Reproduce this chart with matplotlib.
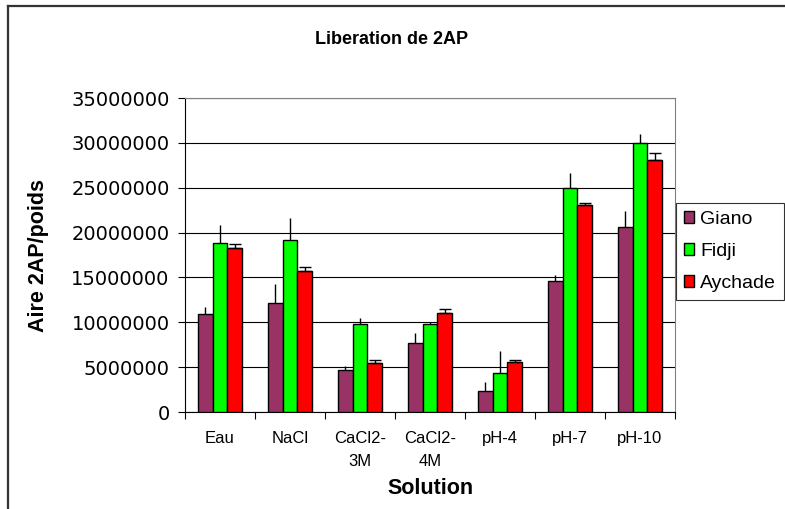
import numpy as np
import matplotlib
matplotlib.use("Agg")
import matplotlib.pyplot as plt
from matplotlib.lines import Line2D

plt.rcParams["font.family"] = ["Liberation Sans", "DejaVu Sans"]

categories = ["Eau", "NaCl", "CaCl2-\n3M", "CaCl2-\n4M", "pH-4", "pH-7", "pH-10"]
series = ["Giano", "Fidji", "Aychade"]
colors = ["#993366", "#00FF00", "#FF0000"]
giano = [10.94e6, 12.2e6, 4.72e6, 7.66e6, 2.34e6, 14.65e6, 20.6e6]
fidji = [18.86e6, 19.2e6, 9.85e6, 9.85e6, 4.35e6, 24.96e6, 29.94e6]
aychade = [18.3e6, 15.77e6, 5.47e6, 11.08e6, 5.61e6, 23.1e6, 28.08e6]
giano_err = [0.76e6, 2.04e6, 0.45e6, 1.14e6, 0.96e6, 0.67e6, 1.75e6]
fidji_err = [1.94e6, 2.37e6, 0.64e6, 0.19e6, 2.41e6, 1.64e6, 1.01e6]
aychade_err = [0.4e6, 0.37e6, 0.37e6, 0.37e6, 0.23e6, 0.2e6, 0.82e6]

values = [giano, fidji, aychade]
errors = [giano_err, fidji_err, aychade_err]
caps = [0, 0, 4]

fig = plt.figure(figsize=(7.85, 5.09), dpi=100)
ax = fig.add_axes([185 / 785, 1 - 412 / 509, 490 / 785, 314 / 509])

x = np.arange(len(categories)) + 0.5
w = 0.214
for k in range(3):
    xs = x + (k - 1) * w
    ax.bar(xs, values[k], width=w, color=colors[k], edgecolor="black",
           linewidth=1.0, label=series[k], zorder=3)
    ax.errorbar(xs, values[k], yerr=[np.zeros(len(x)), errors[k]], fmt="none",
                ecolor="black", elinewidth=1.0, capsize=caps[k], capthick=1.0,
                zorder=4)

ax.set_xlim(0, len(categories))
ax.set_ylim(0, 35e6)
yt = np.arange(0, 35e6 + 1, 5e6)
ax.set_yticks(yt)
ax.set_yticklabels([f"{int(v)}" for v in yt], fontsize=14,
                   family=["DejaVu Sans"])
ax.yaxis.grid(True, color="black", linewidth=0.8, zorder=0)
ax.set_xticks(np.arange(0, len(categories) + 1))
ax.set_xticklabels([])
ax.set_xticks(x, minor=True)
ax.set_xticklabels(categories, minor=True, fontsize=12, linespacing=1.6)
ax.tick_params(axis="x", which="minor", length=0, pad=14)
ax.tick_params(axis="x", which="major", length=5, direction="out", color="black")
ax.tick_params(axis="y", length=5, direction="out", pad=6)
for s in ["top", "right"]:
    ax.spines[s].set_color("#808080")
for s in ["left", "bottom"]:
    ax.spines[s].set_color("black")

ax.set_ylabel("Aire 2AP/poids", fontsize=15.5, fontweight="bold")
ax.yaxis.set_label_coords((49 - 185) / 490, 0.5)
ax.set_xlabel("Solution", fontsize=15.5, fontweight="bold")
ax.xaxis.set_label_coords(0.5, -(478 - 412) / 314)
fig.text(392 / 785, 1 - 40 / 509, "Liberation de 2AP", ha="center", va="center",
         fontsize=13, fontweight="bold")

leg = fig.legend(loc="upper left", bbox_to_anchor=(676 / 785, 1 - 203 / 509),
                 fontsize=14, frameon=True, fancybox=False, edgecolor="black",
                 handlelength=0.55, handleheight=0.55, handletextpad=0.3,
                 labelspacing=0.78, borderpad=0.4, borderaxespad=0)
leg.get_frame().set_linewidth(0.8)

# outer chart frame: only left and top edges show in the crop
fig.add_artist(Line2D([7.5 / 785, 7.5 / 785], [0, 1 - 6 / 509],
                      transform=fig.transFigure, color="#333333", linewidth=1.6))
fig.add_artist(Line2D([7.5 / 785, 1], [1 - 6 / 509, 1 - 6 / 509],
                      transform=fig.transFigure, color="#333333", linewidth=1.6))

fig.savefig("out.png", dpi=100)
